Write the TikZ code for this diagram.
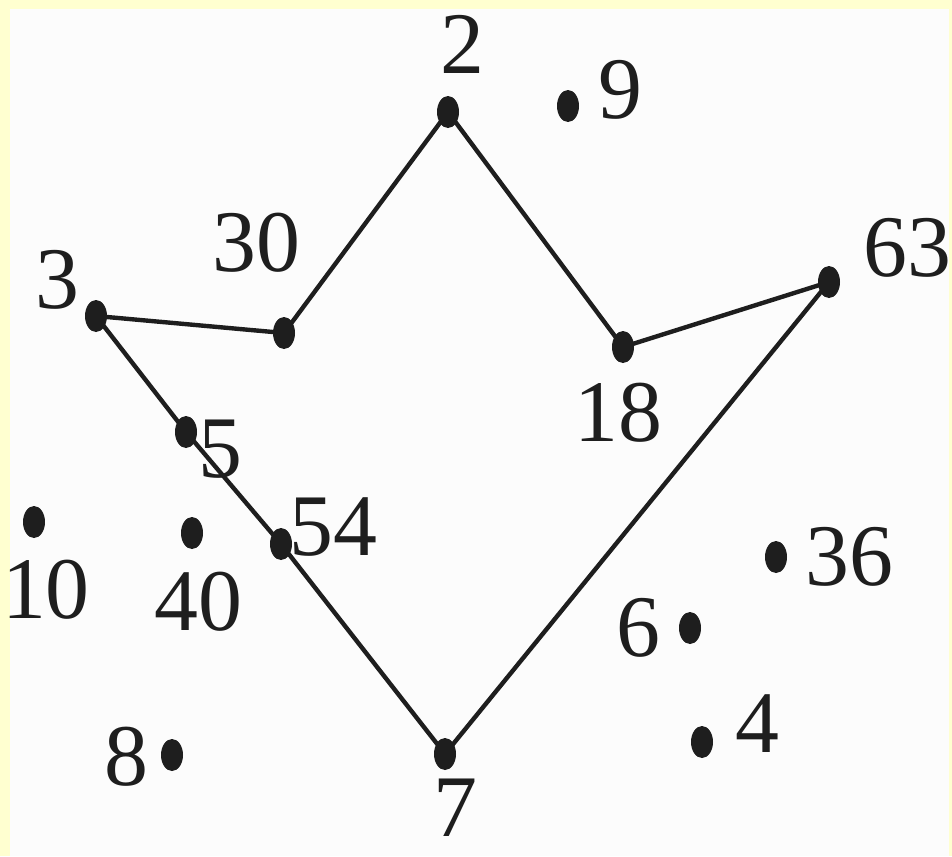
\documentclass[tikz,border=0pt]{standalone}
\usepackage{fontspec}
\setmainfont{Liberation Serif}
\usepackage{xcolor}
\usetikzlibrary{shapes.geometric}
\definecolor{pframe}{RGB}{255,255,208}
\definecolor{ppaper}{RGB}{252,252,252}
\definecolor{pink}{RGB}{30,30,30}

\begin{document}
\begin{tikzpicture}[x=0.02cm, y=-0.02cm,
  dot/.style={ellipse, fill=pink, draw=none, inner sep=0pt,
    minimum width=0.44cm, minimum height=0.64cm},
  num/.style={font=\fontsize{50}{50}\selectfont, text=pink, inner sep=0pt},
  edge/.style={draw=pink, line width=2.5pt, line join=round}]

  % Frame and paper
  \fill[pframe] (0,0) rectangle (952,856);
  \fill[ppaper] (10,9) rectangle (949,856);
  \useasboundingbox (0,0) rectangle (952,856);

  % Points
  \node[dot] (p2)  at (448,112) {};
  \node[dot] (p9)  at (568,106) {};
  \node[dot] (p30) at (284,333) {};
  \node[dot] (p3)  at (96,316)  {};
  \node[dot] (p18) at (623,347) {};
  \node[dot] (p63) at (829,282) {};
  \node[dot] (p5)  at (186,432) {};
  \node[dot] (p54) at (281,544) {};
  \node[dot] (p10) at (34,522)  {};
  \node[dot] (p40) at (192,533) {};
  \node[dot] (p36) at (776,557) {};
  \node[dot] (p6)  at (690,628) {};
  \node[dot] (p4)  at (702,742) {};
  \node[dot] (p8)  at (172,755) {};
  \node[dot] (p7)  at (445,754) {};

  % Labels
  \node[num] (l2)  at (462,44)  {2};
  \node[num] (l9)  at (620,90)  {9};
  \node[num] (l30) at (256,243) {30};
  \node[num] (l3)  at (57,280)  {3};
  \node[num] (l18) at (618,413) {18};
  \node[num] (l63) at (907,248) {63};
  \node[num] (l5)  at (220,449) {5};
  \node[num] (l54) at (333,527) {54};
  \node[num] (l10) at (46,590)  {10};
  \node[num] (l40) at (198,602) {40};
  \node[num] (l36) at (849,557) {36};
  \node[num] (l6)  at (638,628) {6};
  \node[num] (l4)  at (757,724) {4};
  \node[num] (l8)  at (126,757) {8};
  \node[num] (l7)  at (455,808) {7};

  % Closed path
  \draw[edge] (p3.center) -- (p30.center) -- (p2.center) -- (p18.center)
    -- (p63.center) -- (p7.center) -- (p54.center) -- (p5.center) -- (p3.center);

\end{tikzpicture}
\end{document}
